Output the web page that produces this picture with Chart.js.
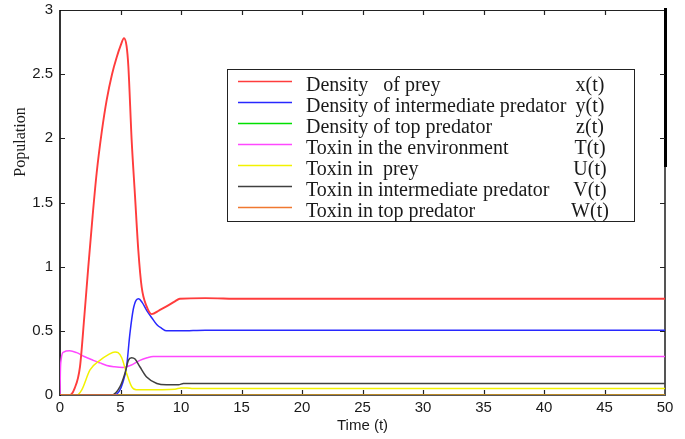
<!DOCTYPE html>
<html>
<head>
<meta charset="utf-8">
<title>Population dynamics with toxin</title>
<script src="https://cdn.jsdelivr.net/npm/chart.js@4.4.1/dist/chart.umd.min.js"></script>
<style>
  body { margin: 0; background: #fff; }
  canvas { display: block; }
</style>
</head>
<body>
<canvas id="popChart" width="685" height="439"></canvas>
<script>
// time samples and values for each state variable
var tPrey = [0, 0.8, 1.2, 1.65, 2.0, 2.34, 2.7, 3.03, 3.45, 3.86, 4.3, 4.68, 5.0, 5.29, 5.5, 5.65, 5.92, 6.2, 6.47, 6.75, 7.16, 7.58, 8.2, 8.8, 9.5, 9.9, 12, 15, 50];
var prey = [0, 0, 0.05, 0.22, 0.6, 1.0, 1.4, 1.73, 2.05, 2.3, 2.5, 2.63, 2.72, 2.78, 2.72, 2.56, 1.99, 1.55, 1.13, 0.84, 0.69, 0.63, 0.66, 0.69, 0.73, 0.75, 0.755, 0.75, 0.75];

var tMid = [0, 4.4, 4.9, 5.2, 5.5, 5.78, 6.06, 6.3, 6.5, 6.8, 7.16, 7.6, 7.99, 8.4, 8.8, 10, 12, 50];
var midPredator = [0, 0, 0.03, 0.1, 0.22, 0.48, 0.67, 0.74, 0.75, 0.72, 0.66, 0.6, 0.55, 0.52, 0.5, 0.5, 0.505, 0.505];

var tTop = [0, 50];
var topPredator = [0, 0];

var tEnv = [0, 0.03, 0.1, 0.3, 0.8, 1.38, 2.0, 2.75, 3.3, 3.86, 4.5, 5.2, 5.8, 6.6, 7.2, 7.7, 8.5, 50];
var toxinEnv = [0, 0.18, 0.28, 0.335, 0.345, 0.33, 0.3, 0.27, 0.25, 0.23, 0.22, 0.215, 0.23, 0.27, 0.29, 0.3, 0.3, 0.3];

var tToxPrey = [0, 1.4, 1.8, 2.48, 3.3, 4.0, 4.55, 4.8, 5.1, 5.5, 5.92, 6.3, 7, 9.5, 10, 10.5, 11, 50];
var toxinPrey = [0, 0, 0.04, 0.195, 0.27, 0.315, 0.335, 0.33, 0.29, 0.17, 0.065, 0.04, 0.04, 0.045, 0.055, 0.055, 0.05, 0.05];

var tToxMid = [0, 4.27, 4.96, 5.37, 5.65, 5.92, 6.2, 6.6, 7.16, 8.0, 8.8, 9.8, 10.2, 50];
var toxinMid = [0, 0, 0.065, 0.17, 0.27, 0.29, 0.28, 0.22, 0.14, 0.09, 0.08, 0.08, 0.09, 0.09];

var tToxTop = [0, 50];
var toxinTop = [0, 0];

var names = ['Density   of prey', 'Density of intermediate predator', 'Density of top predator',
  'Toxin in the environment', 'Toxin in  prey', 'Toxin in intermediate predator', 'Toxin in top predator'];
var symbols = ['x(t)', 'y(t)', 'z(t)', 'T(t)', 'U(t)', 'V(t)', 'W(t)'];
var colors = ['#ff3c3c', '#2828ff', '#00e000', '#ff48ff', '#f2f200', '#404040', '#f07830'];

function pts(t, v) {
  return t.map(function (x, i) { return { x: x, y: v[i] }; });
}

var series = [
  [tPrey, prey], [tMid, midPredator], [tTop, topPredator], [tEnv, toxinEnv],
  [tToxPrey, toxinPrey], [tToxMid, toxinMid], [tToxTop, toxinTop]
];

// orange/green lie on the axis, keep them on top
var drawOrder = [3, 4, 6, 5, 2, 1, 0];

var datasets = series.map(function (s, i) {
  return {
    label: names[i],
    data: pts(s[0], s[1]),
    borderColor: colors[i],
    borderWidth: i === 0 ? 1.9 : 1.5,
    pointRadius: 0,
    cubicInterpolationMode: 'monotone',
    fill: false,
    order: drawOrder[i]
  };
});

var tickFont = { family: '"Liberation Sans", Arial, sans-serif', size: 15 };

var framePlugin = {
  id: 'frame',
  beforeDatasetsDraw: function (chart) {
    var ctx = chart.ctx, a = chart.chartArea;
    var xs = chart.scales.x, ys = chart.scales.y;
    ctx.save();
    ctx.strokeStyle = '#222';
    ctx.lineWidth = 1;
    ctx.beginPath();
    ctx.moveTo(a.left, a.top + 0.5); ctx.lineTo(a.right, a.top + 0.5);
    ctx.stroke();
    ctx.strokeStyle = '#555';
    ctx.lineWidth = 2;
    ctx.beginPath();
    ctx.moveTo(a.right, a.top); ctx.lineTo(a.right, a.bottom);
    ctx.lineTo(a.left, a.bottom);
    ctx.stroke();
    ctx.strokeStyle = '#000';
    ctx.lineWidth = 1.6;
    ctx.beginPath();
    ctx.moveTo(a.left, a.top); ctx.lineTo(a.left, a.bottom + 1);
    ctx.stroke();
    // heavier stroke on the upper part of the right border
    ctx.lineWidth = 3;
    ctx.beginPath();
    ctx.moveTo(a.right + 0.5, a.top - 2); ctx.lineTo(a.right + 0.5, 167);
    ctx.stroke();

    // inward tick marks
    ctx.strokeStyle = '#222';
    ctx.lineWidth = 1.2;
    ctx.beginPath();
    for (var v = 5; v < 50; v += 5) {
      var px = Math.round(xs.getPixelForValue(v)) + 0.5;
      ctx.moveTo(px, a.bottom); ctx.lineTo(px, a.bottom - 5);
      ctx.moveTo(px, a.top); ctx.lineTo(px, a.top + 5);
    }
    for (var w = 0.5; w < 3; w += 0.5) {
      var py = Math.round(ys.getPixelForValue(w)) + 0.5;
      ctx.moveTo(a.left, py); ctx.lineTo(a.left + 5, py);
      ctx.moveTo(a.right, py); ctx.lineTo(a.right - 5, py);
    }
    ctx.stroke();
    ctx.restore();
  },
  afterDatasetsDraw: function (chart) {
    var ctx = chart.ctx;
    ctx.save();

    // y axis title, set above the axis middle
    ctx.translate(25, 142);
    ctx.rotate(-Math.PI / 2);
    ctx.font = '16px "Liberation Serif", "Times New Roman", serif';
    ctx.fillStyle = '#1a1a1a';
    ctx.textAlign = 'center';
    ctx.textBaseline = 'alphabetic';
    ctx.fillText('Population', 0, 0);
    ctx.setTransform(1, 0, 0, 1, 0, 0);

    // legend box with labels and symbol column
    var bx = 227, by = 69, bw = 407, bh = 152;
    ctx.fillStyle = '#fff';
    ctx.fillRect(bx, by, bw, bh);
    ctx.strokeStyle = '#222';
    ctx.lineWidth = 1;
    ctx.strokeRect(bx + 0.5, by + 0.5, bw, bh);

    ctx.font = '20px "Liberation Serif", "Times New Roman", serif';
    chart.data.datasets.forEach(function (ds, i) {
      var ly = 81 + i * 21;
      ctx.strokeStyle = ds.borderColor;
      ctx.lineWidth = 1.5;
      ctx.beginPath();
      ctx.moveTo(238, ly + 0.5);
      ctx.lineTo(292, ly + 0.5);
      ctx.stroke();
      ctx.fillStyle = '#1a1a1a';
      ctx.textAlign = 'left';
      ctx.fillText(ds.label, 306, ly + 10);
      ctx.textAlign = 'center';
      ctx.fillText(symbols[i], 590, ly + 10);
    });
    ctx.restore();
  }
};

function plainTick(value) {
  return String(Math.round(value * 10) / 10);
}

new Chart(document.getElementById('popChart'), {
  type: 'line',
  data: { datasets: datasets },
  options: {
    responsive: false,
    animation: false,
    devicePixelRatio: 1,
    layout: { padding: { top: 10, right: 20, left: 0, bottom: 0 } },
    plugins: { legend: { display: false }, tooltip: { enabled: false } },
    scales: {
      x: {
        type: 'linear',
        min: 0,
        max: 50,
        ticks: { stepSize: 5, font: tickFont, color: '#1a1a1a', padding: 4, maxRotation: 0, callback: plainTick },
        grid: { display: true, drawOnChartArea: false, drawTicks: false, color: 'rgba(0,0,0,0)' },
        border: { display: false },
        title: { display: true, text: 'Time (t)', font: tickFont, color: '#1a1a1a', padding: { top: 0, bottom: 4 } },
        afterFit: function (s) { s.height = 44; s.paddingLeft = 0; s.paddingRight = 0; }
      },
      y: {
        type: 'linear',
        min: 0,
        max: 3,
        ticks: { stepSize: 0.5, font: tickFont, color: '#1a1a1a', padding: 7, callback: plainTick },
        grid: { display: true, drawOnChartArea: false, drawTicks: false, color: 'rgba(0,0,0,0)' },
        border: { display: false },
        afterFit: function (s) { s.width = 60; s.paddingTop = 0; s.paddingBottom = 0; }
      }
    }
  },
  plugins: [framePlugin]
});
</script>
</body>
</html>
